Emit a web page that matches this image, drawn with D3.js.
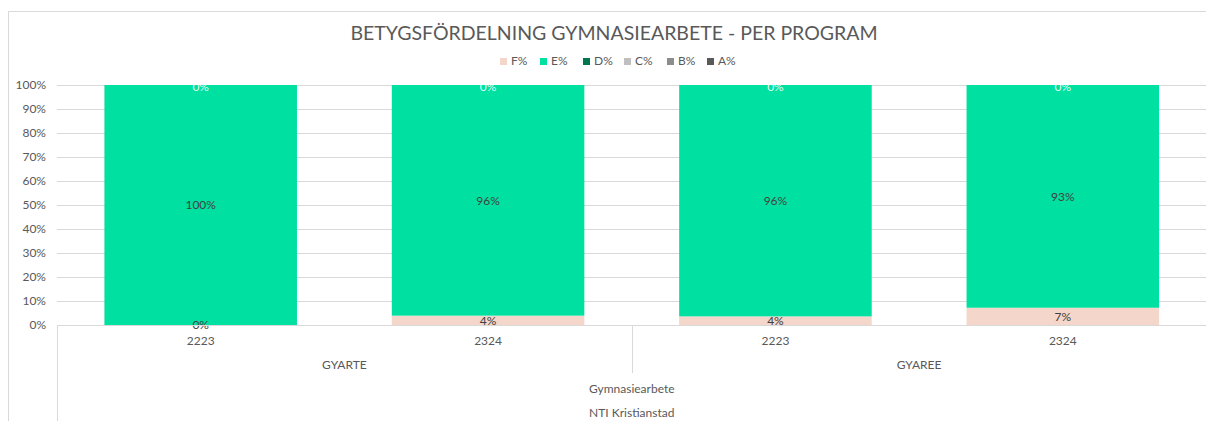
<!DOCTYPE html>
<html>
<head>
<meta charset="utf-8">
<script src="https://cdn.jsdelivr.net/npm/d3@7"></script>
<style>
  body { margin: 0; background: #fff; }
  svg text { font-family: "Lato", "DejaVu Sans", sans-serif; fill: #595959; }
</style>
</head>
<body>
<div class="canvas"></div>
<script>
// data
const years = ["2223", "2324", "2223", "2324"];
const programs = ["GYARTE", "GYAREE"];
const course = "Gymnasiearbete";
const school = "NTI Kristianstad";
const seriesNames = ["F%", "E%", "D%", "C%", "B%", "A%"];
const fValues = [0, 0.039, 0.036, 0.072];
const eValues = [1, 0.961, 0.964, 0.928];
const dValues = [0, 0, 0, 0];
const cValues = [0, 0, 0, 0];
const bValues = [0, 0, 0, 0];
const aValues = [0, 0, 0, 0];
const yTicks = [0, 0.1, 0.2, 0.3, 0.4, 0.5, 0.6, 0.7, 0.8, 0.9, 1];

const colors = ["#f4d6cb", "#00e0a0", "#00764e", "#bfbfbf", "#8c8c8c", "#595959"];
const labelColors = ["#404040", "#404040", "#ffffff", "#ffffff", "#ffffff", "#ffffff"];

// margins and dimensions
const w = 1206;
const h = 421;
const margin = { top: 85, right: 0, bottom: 96, left: 57 };
const graphWidth = w - margin.left - margin.right + 0.5;
const graphHeight = h - margin.top - margin.bottom;

const rows = years.map((y, i) => ({
  key: i,
  "F%": fValues[i], "E%": eValues[i], "D%": dValues[i],
  "C%": cValues[i], "B%": bValues[i], "A%": aValues[i]
}));
const stacked = d3.stack().keys(seriesNames)(rows);

const svg = d3.select(".canvas").append("svg").attr("width", w).attr("height", h);

// chart border
svg.append("rect")
  .attr("x", 8.5).attr("y", 11.5)
  .attr("width", w + 10).attr("height", h + 10)
  .attr("fill", "none").attr("stroke", "#d9d9d9");

// title
svg.append("text")
  .attr("x", 614).attr("y", 40)
  .attr("text-anchor", "middle")
  .attr("font-size", 19.5)
  .text("BETYGSFÖRDELNING GYMNASIEARBETE - PER PROGRAM");

// legend
const legendX = [500, 540, 583, 624, 667, 707];
const legend = svg.append("g");
seriesNames.forEach((s, i) => {
  legend.append("rect")
    .attr("x", legendX[i]).attr("y", 58)
    .attr("width", 7).attr("height", 7)
    .attr("fill", colors[i]);
  legend.append("text")
    .attr("x", legendX[i] + 11).attr("y", 62)
    .attr("dominant-baseline", "middle")
    .attr("font-size", 12)
    .text(s);
});

const graph = svg.append("g").attr("transform", `translate(${margin.left}, ${margin.top})`);

// scales
const xScale = d3.scaleBand().domain(d3.range(years.length)).range([0, graphWidth]).paddingInner(0.33).paddingOuter(0.165);
const yScale = d3.scaleLinear().domain([0, 1]).range([graphHeight, 0]);

// gridlines
graph.append("g")
  .selectAll("line")
  .data(yTicks)
  .join("line")
  .attr("x1", 0).attr("x2", graphWidth)
  .attr("y1", (d) => Math.round(yScale(d)) + 0.5)
  .attr("y2", (d) => Math.round(yScale(d)) + 0.5)
  .attr("stroke", "#d9d9d9");

// y axis labels
const yAxis = d3.axisLeft(yScale).tickValues(yTicks).tickFormat(d3.format(".0%")).tickSize(0).tickPadding(11);
const yg = graph.append("g").call(yAxis);
yg.select(".domain").remove();
yg.selectAll("text").attr("font-size", 12).attr("font-family", null).attr("fill", "#595959");

// bars
graph.selectAll("g.series")
  .data(stacked)
  .join("g")
  .attr("class", "series")
  .attr("fill", (d, i) => colors[i])
  .selectAll("rect")
  .data((d) => d)
  .join("rect")
  .attr("x", (d, i) => xScale(i))
  .attr("width", xScale.bandwidth())
  .attr("y", (d) => yScale(d[1]))
  .attr("height", (d) => yScale(d[0]) - yScale(d[1]));

// data labels (zero-height top segments share one spot, so draw only the last one there)
stacked.forEach((s, si) => {
  if (si > 1 && si < stacked.length - 1) return;
  graph.append("g")
    .selectAll("text")
    .data(s)
    .join("text")
    .attr("x", (d, i) => xScale(i) + xScale.bandwidth() / 2)
    .attr("y", (d) => yScale((d[0] + d[1]) / 2) + (si > 1 ? 2 : 0))
    .attr("dy", "0.35em")
    .attr("text-anchor", "middle")
    .attr("font-size", 12)
    .style("fill", labelColors[si])
    .style("fill-opacity", si > 1 ? 0.9 : 1)
    .text((d) => d3.format(".0%")(d[1] - d[0]));
});

// category axis
const axis = graph.append("g").attr("transform", `translate(0, ${graphHeight})`);
axis.append("line").attr("x1", 0).attr("x2", graphWidth).attr("y1", 0.5).attr("y2", 0.5).attr("stroke", "#d9d9d9");
axis.append("line").attr("x1", 0.5).attr("x2", 0.5).attr("y1", 0).attr("y2", h).attr("stroke", "#d9d9d9");
const midX = Math.round((xScale(1) + xScale.bandwidth() + xScale(2)) / 2) + 0.5;
axis.append("line").attr("x1", midX).attr("x2", midX).attr("y1", 0).attr("y2", 48).attr("stroke", "#d9d9d9");

axis.selectAll("text.year")
  .data(years)
  .join("text")
  .attr("class", "year")
  .attr("x", (d, i) => xScale(i) + xScale.bandwidth() / 2)
  .attr("y", 20)
  .attr("text-anchor", "middle")
  .attr("font-size", 12)
  .text((d) => d);

axis.selectAll("text.program")
  .data(programs)
  .join("text")
  .attr("class", "program")
  .attr("x", (d, i) => (xScale(i * 2) + xScale(i * 2 + 1) + xScale.bandwidth()) / 2)
  .attr("y", 44)
  .attr("text-anchor", "middle")
  .attr("font-size", 12)
  .text((d) => d);

axis.append("text")
  .attr("x", graphWidth / 2).attr("y", 68)
  .attr("text-anchor", "middle").attr("font-size", 12)
  .text(course);

axis.append("text")
  .attr("x", graphWidth / 2).attr("y", 92)
  .attr("text-anchor", "middle").attr("font-size", 12)
  .text(school);
</script>
</body>
</html>
